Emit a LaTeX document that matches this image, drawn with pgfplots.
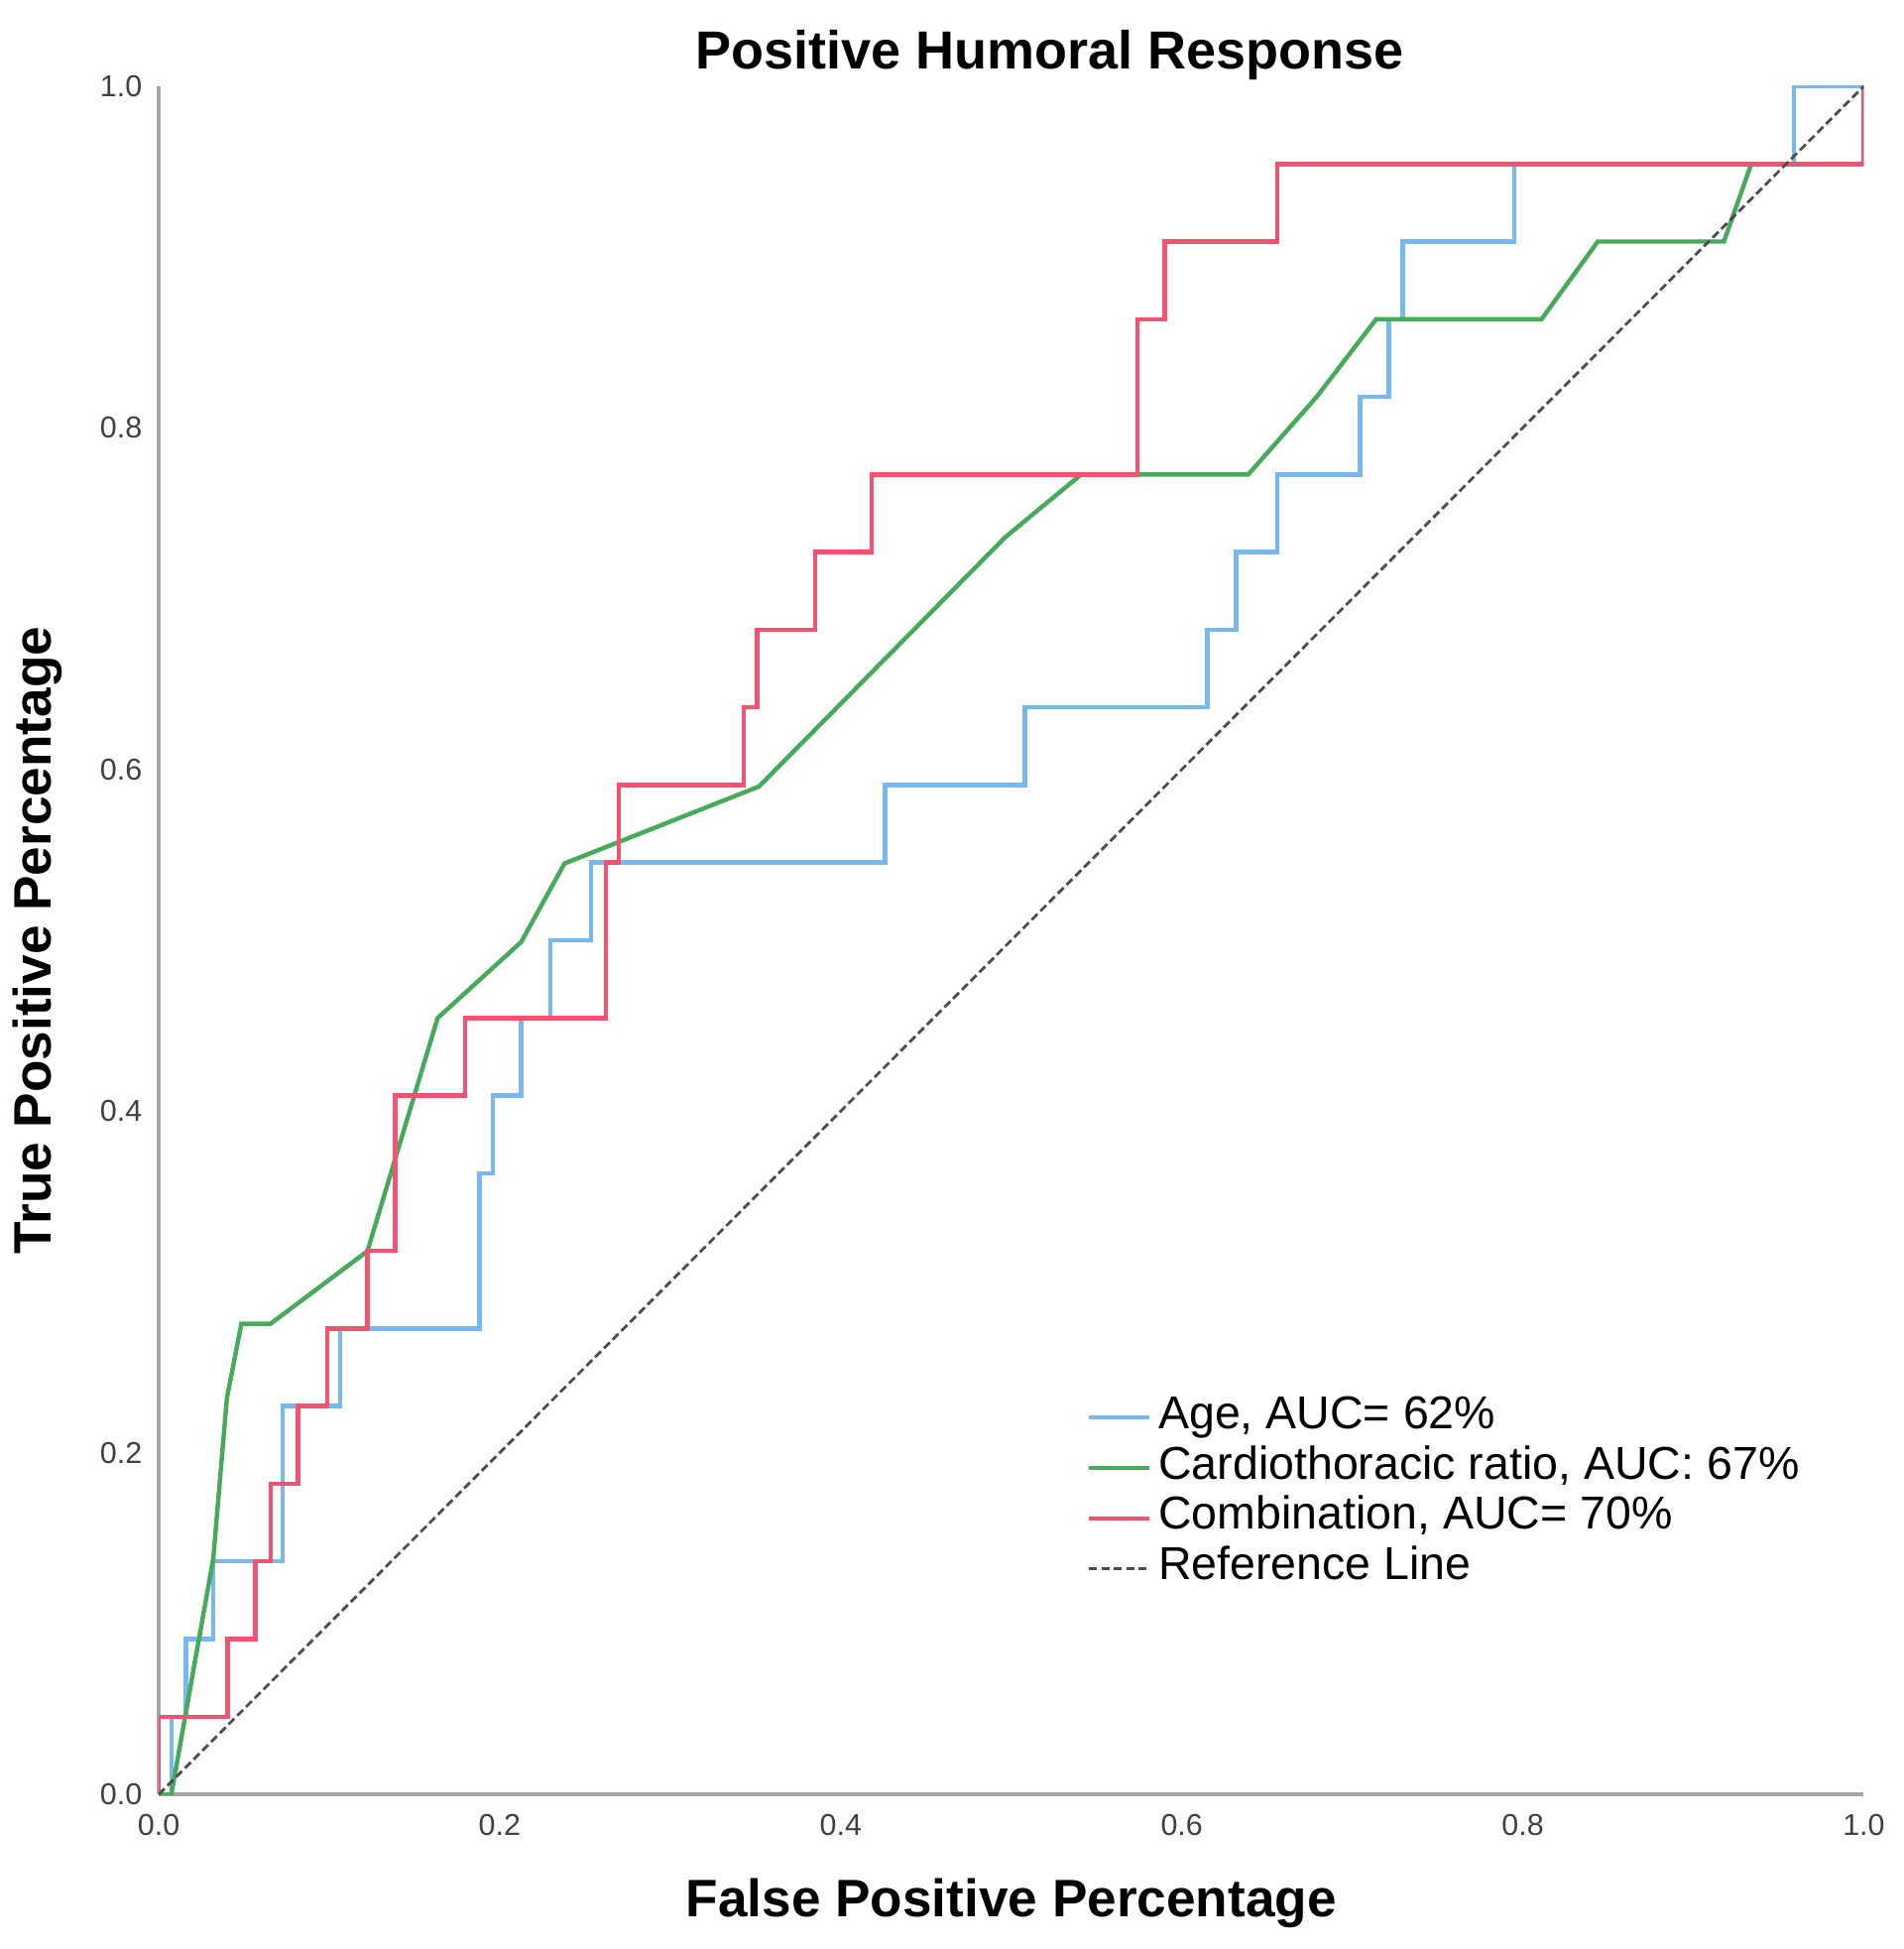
\documentclass[border=0pt]{standalone}
\usepackage{fontspec}
\setmainfont{Liberation Sans}
\usepackage{pgfplots}
\pgfplotsset{compat=1.18}
\definecolor{agecol}{RGB}{120,184,240}
\definecolor{ctrcol}{RGB}{70,170,90}
\definecolor{combcol}{RGB}{243,82,112}
\definecolor{axgray}{RGB}{165,165,165}

\begin{document}
\begin{tikzpicture}
\useasboundingbox (-57.8pt,-56.3pt) rectangle (635.4pt,653.4pt);
\begin{axis}[
  scale only axis, width=621pt, height=622pt,
  xmin=0, xmax=1, ymin=0, ymax=1,
  axis lines*=left,
  axis line style={axgray, line width=1.6pt},
  major tick length=0pt,
  xtick={0,0.2,0.4,0.6,0.8,1}, xticklabels={0.0,0.2,0.4,0.6,0.8,1.0},
  ytick={0,0.2,0.4,0.6,0.8,1}, yticklabels={0.0,0.2,0.4,0.6,0.8,1.0},
  xticklabel style={anchor=center, yshift=-11.2pt, font=\fontsize{11}{13}\selectfont, text=black!75},
  yticklabel style={anchor=center, xshift=-13.7pt, font=\fontsize{11}{13}\selectfont, text=black!75},
  title={Positive Humoral Response},
  every axis title/.style={at={(axis description cs:0.5225,1.018)}, anchor=center, font=\fontsize{19.5}{23}\selectfont\bfseries},
  xlabel={False Positive Percentage},
  every axis x label/.style={at={(axis description cs:0.5,-0.0638)}, anchor=center, font=\fontsize{19.2}{23}\selectfont\bfseries},
  ylabel={True Positive Percentage},
  every axis y label/.style={at={(axis description cs:-0.0709,0.5)}, anchor=center, rotate=90, font=\fontsize{19.2}{23}\selectfont\bfseries},
  legend image code/.code={\draw[#1] (0pt,0pt) -- (22pt,0pt);},
  legend style={at={(rel axis cs:0.5440,0.2331)}, anchor=north west, draw=none, fill=none,
    font=\fontsize{16.8}{19}\selectfont, inner sep=0pt, row sep=3.4pt, column sep=2.5pt,
    nodes={inner sep=0pt, text height=11.5pt, text depth=3.5pt}},
  legend cell align=left,
]
% Age
\addplot[agecol, line width=1.6pt] coordinates {
(0,0) (0.0074,0) (0.0074,0.0455) (0.016,0.0455) (0.016,0.0909) (0.032,0.0909)
(0.032,0.1364) (0.0728,0.1364) (0.0728,0.2273) (0.1064,0.2273) (0.1064,0.2727)
(0.188,0.2727) (0.188,0.3636) (0.196,0.3636) (0.196,0.4091) (0.2126,0.4091)
(0.2126,0.4545) (0.2297,0.4545) (0.2297,0.5) (0.2537,0.5) (0.2537,0.5455)
(0.426,0.5455) (0.426,0.5909) (0.508,0.5909) (0.508,0.6364) (0.615,0.6364)
(0.615,0.6818) (0.632,0.6818) (0.632,0.7273) (0.656,0.7273) (0.656,0.7727)
(0.7046,0.7727) (0.7046,0.8182) (0.7214,0.8182) (0.7214,0.8636) (0.7295,0.8636)
(0.7295,0.9091) (0.795,0.9091) (0.795,0.9545) (0.959,0.9545) (0.959,1) (1,1)};
\addlegendentry{Age, AUC= 62\%}
% Cardiothoracic ratio
\addplot[ctrcol, line width=1.6pt] coordinates {
(0,0) (0.0074,0) (0.032,0.138) (0.040,0.232) (0.0485,0.2755) (0.0656,0.2755)
(0.1224,0.318) (0.1636,0.4545) (0.2126,0.499) (0.238,0.545) (0.352,0.590)
(0.4965,0.736) (0.541,0.7727) (0.639,0.7727) (0.679,0.818) (0.714,0.8636)
(0.811,0.8636) (0.844,0.9091) (0.918,0.9091) (0.934,0.9545) (1,0.9545) (1,1)};
\addlegendentry{Cardiothoracic ratio, AUC: 67\%}
% Combination
\addplot[combcol, line width=1.6pt] coordinates {
(0,0) (0,0.0455) (0.0404,0.0455) (0.0404,0.0909) (0.0567,0.0909) (0.0567,0.1364)
(0.0656,0.1364) (0.0656,0.1818) (0.0816,0.1818) (0.0816,0.2273) (0.099,0.2273)
(0.099,0.2727) (0.1224,0.2727) (0.1224,0.3182) (0.1386,0.3182) (0.1386,0.4091)
(0.1796,0.4091) (0.1796,0.4545) (0.2622,0.4545) (0.2622,0.5455) (0.270,0.5455)
(0.270,0.5909) (0.343,0.5909) (0.343,0.6364) (0.351,0.6364) (0.351,0.6818)
(0.385,0.6818) (0.385,0.7273) (0.418,0.7273) (0.418,0.7727) (0.574,0.7727)
(0.574,0.8636) (0.590,0.8636) (0.590,0.9091) (0.656,0.9091) (0.656,0.9545)
(1,0.9545) (1,1)};
\addlegendentry{Combination, AUC= 70\%}
% Reference line
\addplot[black!70, line width=1pt, dash pattern=on 3pt off 1.5pt] coordinates {(0,0) (1,1)};
\addlegendentry{Reference Line}
\end{axis}
\end{tikzpicture}
\end{document}
